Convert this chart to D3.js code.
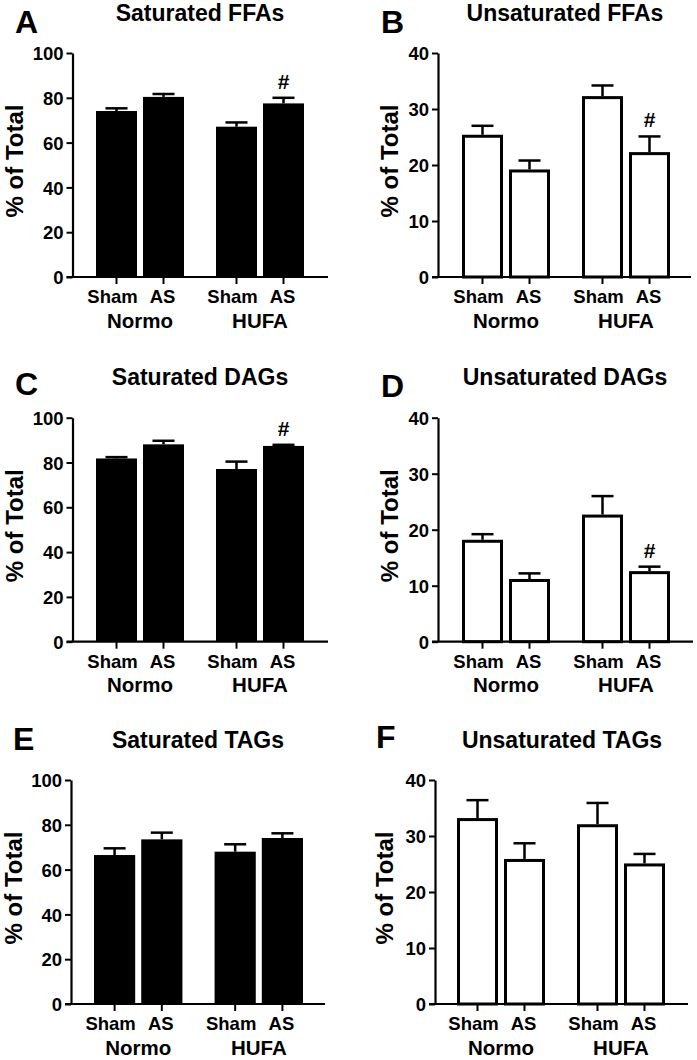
<!DOCTYPE html>
<html>
<head>
<meta charset="utf-8">
<script src="https://cdn.jsdelivr.net/npm/d3@7"></script>
<style>
html,body{margin:0;padding:0;background:#fff;}
svg{display:block;}
text{font-family:"Liberation Sans",Arial,sans-serif;font-weight:bold;fill:#000;}
</style>
</head>
<body>
<script>
// ---- data ----
const groups = ["Normo", "HUFA"];
const conditions = ["Sham", "AS"];
const satTicks = [0, 20, 40, 60, 80, 100];
const unsatTicks = [0, 10, 20, 30, 40];

// order: Normo-Sham, Normo-AS, HUFA-Sham, HUFA-AS
const satFFA = [74.1, 80.4, 67.1, 77.5];
const satFFAErr = [1.2, 1.3, 1.9, 2.5];
const unsatFFA = [25.4, 19.2, 32.3, 22.3];
const unsatFFAErr = [1.6, 1.6, 1.9, 2.8];
const satDAG = [81.8, 88.1, 77.1, 87.4];
const satDAGErr = [0.6, 1.6, 3.3, 0.5];
const unsatDAG = [18.2, 11.2, 22.7, 12.6];
const unsatDAGErr = [1.0, 1.0, 3.3, 0.8];
const satTAG = [66.5, 73.5, 68.0, 74.1];
const satTAGErr = [3.0, 3.0, 3.3, 2.1];
const unsatTAG = [33.2, 25.9, 32.1, 25.1];
const unsatTAGErr = [3.2, 2.8, 3.8, 1.7];

const panelLetters = ["A", "B", "C", "D", "E", "F"];
const panelTitles = ["Saturated FFAs", "Unsaturated FFAs", "Saturated DAGs", "Unsaturated DAGs", "Saturated TAGs", "Unsaturated TAGs"];
const panelValues = [satFFA, unsatFFA, satDAG, unsatDAG, satTAG, unsatTAG];
const panelErrors = [satFFAErr, unsatFFAErr, satDAGErr, unsatDAGErr, satTAGErr, unsatTAGErr];
const panelMax = [100, 40, 100, 40, 100, 40];
const panelTickSets = [satTicks, unsatTicks, satTicks, unsatTicks, satTicks, unsatTicks];
const panelFilled = [true, false, true, false, true, false];
const significance = [[3], [3], [3], [3], [], []]; // bar index marked "#"
const yLabel = "% of Total";

// ---- layout ----
const layouts = [
  {ax: 72.5, top: 53, zero: 277, xEnd: 328, b0: 96, b1: 304, tx: 200, ty: 21, lx: 15, ly: 33, yl: 23},
  {ax: 438, top: 53, zero: 277, xEnd: 691, b0: 462, b1: 670, tx: 565, ty: 21, lx: 381, ly: 33, yl: 398},
  {ax: 72.5, top: 417.7, zero: 641.7, xEnd: 328, b0: 96, b1: 304, tx: 200, ty: 385, lx: 15, ly: 395, yl: 23},
  {ax: 438, top: 417.7, zero: 641.7, xEnd: 693, b0: 462, b1: 670, tx: 565, ty: 385, lx: 381, ly: 397, yl: 398},
  {ax: 71, top: 780, zero: 1004, xEnd: 325, b0: 94, b1: 303, tx: 198, ty: 748, lx: 13, ly: 750, yl: 22},
  {ax: 435, top: 780, zero: 1004, xEnd: 688, b0: 457, b1: 665, tx: 562, ty: 748, lx: 376, ly: 748, yl: 393}
];

const svg = d3.select("body").append("svg").attr("width", 697).attr("height", 1060);

panelTitles.forEach((title, p) => {
  const L = layouts[p];
  const g = svg.append("g");
  const vals = panelValues[p], errs = panelErrors[p];
  const data = [];
  groups.forEach((gr, gi) => conditions.forEach((c, ci) => {
    const i = gi * 2 + ci;
    data.push({group: gr, cond: c, v: vals[i], e: errs[i], i});
  }));

  const y = d3.scaleLinear().domain([0, panelMax[p]]).range([L.zero, L.top]);
  const x0 = d3.scaleBand().domain(groups).range([L.b0, L.b1]).paddingInner(1 - 88 / 120).paddingOuter(0);
  const x1 = d3.scaleBand().domain(conditions).range([0, x0.bandwidth()]).paddingInner(6 / 47).paddingOuter(0);
  const cx = d => x0(d.group) + x1(d.cond) + x1.bandwidth() / 2;

  // letter and title
  g.append("text").attr("x", L.lx).attr("y", L.ly).style("font-size", "32px").text(panelLetters[p]);
  g.append("text").attr("x", L.tx).attr("y", L.ty).attr("text-anchor", "middle").style("font-size", "23px").text(title);

  // y label
  g.append("text")
    .attr("transform", `translate(${L.yl},${(L.top + L.zero) / 2 - 4}) rotate(-90)`)
    .attr("text-anchor", "middle").style("font-size", "24px").text(yLabel);

  // bars
  const filled = panelFilled[p];
  const sw = 3;
  g.selectAll("rect.bar").data(data).enter().append("rect")
    .attr("x", d => x0(d.group) + x1(d.cond) + (filled ? 0 : sw / 2))
    .attr("width", x1.bandwidth() - (filled ? 0 : sw))
    .attr("y", d => y(d.v) + (filled ? 0 : sw / 2))
    .attr("height", d => y(0) - y(d.v) - (filled ? 0 : sw / 2))
    .attr("fill", filled ? "#000" : "#fff")
    .attr("stroke", filled ? "none" : "#000")
    .attr("stroke-width", sw);

  // error bars (upper only)
  g.selectAll("line.err").data(data).enter().append("line")
    .attr("x1", cx).attr("x2", cx)
    .attr("y1", d => y(d.v)).attr("y2", d => y(d.v + d.e))
    .attr("stroke", "#000").attr("stroke-width", 2.5);
  g.selectAll("line.cap").data(data).enter().append("line")
    .attr("x1", d => cx(d) - 11).attr("x2", d => cx(d) + 11)
    .attr("y1", d => y(d.v + d.e)).attr("y2", d => y(d.v + d.e))
    .attr("stroke", "#000").attr("stroke-width", 2.5);

  // significance
  g.selectAll("text.sig").data(data.filter(d => significance[p].includes(d.i))).enter().append("text")
    .attr("x", cx).attr("y", d => y(d.v + d.e) - 9)
    .attr("text-anchor", "middle").style("font-size", "21px").text("#");

  // y axis
  const yAxis = d3.axisLeft(y).tickValues(panelTickSets[p]).tickSize(6).tickPadding(3).tickSizeOuter(0);
  const ya = g.append("g").attr("transform", `translate(${L.ax},0)`).call(yAxis);
  ya.select(".domain").attr("stroke-width", 2.2);
  ya.selectAll(".tick line").attr("stroke-width", 2);
  ya.selectAll(".tick text").style("font-size", "18.5px").style("font-family", "Liberation Sans, Arial, sans-serif").style("font-weight", "bold").attr("dy", "0.36em");

  // x axis baseline
  g.append("line").attr("x1", L.ax - 6).attr("x2", L.xEnd).attr("y1", L.zero).attr("y2", L.zero)
    .attr("stroke", "#000").attr("stroke-width", 2.2);
  // x ticks
  g.selectAll("line.xt").data(data).enter().append("line")
    .attr("x1", cx).attr("x2", cx).attr("y1", L.zero).attr("y2", L.zero + 7)
    .attr("stroke", "#000").attr("stroke-width", 2);
  // x labels
  g.selectAll("text.xl").data(data).enter().append("text")
    .attr("x", d => cx(d) + (d.cond === "Sham" ? -4 : -1)).attr("y", L.zero + 26)
    .attr("text-anchor", "middle").style("font-size", "18.5px").text(d => d.cond);
  g.selectAll("text.gl").data(groups).enter().append("text")
    .attr("x", d => x0(d) + x0.bandwidth() / 2).attr("y", L.zero + 50.5)
    .attr("text-anchor", "middle").style("font-size", "20.5px").text(d => d);
});
</script>
</body>
</html>
